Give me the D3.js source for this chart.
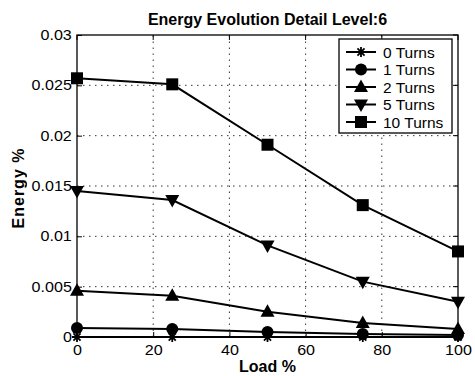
<!DOCTYPE html>
<html>
<head>
<meta charset="utf-8">
<script src="https://cdn.jsdelivr.net/npm/d3@7"></script>
<style>
  body { margin: 0; background: #fff; }
  text { font-family: "Liberation Sans", Arial, sans-serif; }
</style>
</head>
<body>
<svg width="475" height="376"></svg>
<script>
const loads = [0, 25, 50, 75, 100];
const turns0 = [0, 0, 0, 0, 0];
const turns1 = [0.0009, 0.0008, 0.0005, 0.0003, 0.0002];
const turns2 = [0.0046, 0.0041, 0.0025, 0.0014, 0.0008];
const turns5 = [0.0145, 0.0136, 0.0091, 0.0055, 0.0035];
const turns10 = [0.0257, 0.0251, 0.0191, 0.0131, 0.0085];
const seriesNames = ["0 Turns", "1 Turns", "2 Turns", "5 Turns", "10 Turns"];
const symbols = ["star", "circle", "up", "down", "square"];
const xTicks = [0, 20, 40, 60, 80, 100];
const yTicks = [0, 0.005, 0.01, 0.015, 0.02, 0.025, 0.03];

const series = [turns0, turns1, turns2, turns5, turns10].map((vals, i) => ({
  name: seriesNames[i],
  sym: symbols[i],
  points: vals.map((v, j) => ({ x: loads[j], y: v })),
}));

const svg = d3.select("svg");
const margin = { left: 77, right: 17, top: 35, bottom: 39 };
const W = 475, H = 376;

const x = d3.scaleLinear().domain([0, 100]).range([margin.left, W - margin.right]);
const y = d3.scaleLinear().domain([0, 0.03]).range([H - margin.bottom, margin.top]);

const g = svg.append("g");

// dotted grid
g.append("g")
  .selectAll("line")
  .data(xTicks.slice(1, -1))
  .enter()
  .append("line")
  .attr("x1", (d) => x(d)).attr("x2", (d) => x(d))
  .attr("y1", y(0)).attr("y2", y(0.03))
  .attr("stroke", "#000").attr("stroke-width", 0.8)
  .attr("stroke-dasharray", "1.5,4.5");
g.append("g")
  .selectAll("line")
  .data(yTicks.slice(1, -1))
  .enter()
  .append("line")
  .attr("y1", (d) => y(d)).attr("y2", (d) => y(d))
  .attr("x1", x(0)).attr("x2", x(100))
  .attr("stroke", "#000").attr("stroke-width", 0.8)
  .attr("stroke-dasharray", "1.5,4.5");

// axes
const xAxis = d3.axisBottom(x).tickValues(xTicks).tickSizeInner(-5).tickSizeOuter(0).tickPadding(7);
const yAxis = d3.axisLeft(y).tickValues(yTicks).tickSizeInner(-5).tickSizeOuter(0).tickPadding(5)
  .tickFormat((d) => d === 0 ? "0" : String(+d.toFixed(3)));

const xa = g.append("g").attr("transform", `translate(0,${y(0)})`).call(xAxis);
const ya = g.append("g").attr("transform", `translate(${x(0)},0)`).call(yAxis);
[xa, ya].forEach((a) => {
  a.selectAll("text").attr("font-size", 14).attr("fill", "#000")
    .style("font-family", "'Liberation Sans', Arial, sans-serif");
  a.select(".domain").remove();
});
xa.selectAll("text").attr("dy", "0.8em").attr("transform", "scale(1.15,1)");
ya.selectAll("text").attr("transform", "scale(1.15,1)").attr("x", -4.5);

// right/top ticks
g.append("g").selectAll("line").data(yTicks).enter().append("line")
  .attr("x1", x(100)).attr("x2", x(100) - 5)
  .attr("y1", (d) => y(d)).attr("y2", (d) => y(d)).attr("stroke", "#000");
g.append("g").selectAll("line").data(xTicks).enter().append("line")
  .attr("y1", y(0.03)).attr("y2", y(0.03) + 5)
  .attr("x1", (d) => x(d)).attr("x2", (d) => x(d)).attr("stroke", "#000");

// box
g.append("rect")
  .attr("x", x(0)).attr("y", y(0.03))
  .attr("width", x(100) - x(0)).attr("height", y(0) - y(0.03))
  .attr("fill", "none").attr("stroke", "#000").attr("stroke-width", 1.3);

const line = d3.line().x((d) => x(d.x)).y((d) => y(d.y));

function drawSymbol(sel, sym, cx, cy) {
  if (sym === "circle") {
    sel.append("circle").attr("cx", cx).attr("cy", cy).attr("r", 6).attr("fill", "#000");
  } else if (sym === "square") {
    sel.append("rect").attr("x", cx - 6).attr("y", cy - 6).attr("width", 12).attr("height", 12).attr("fill", "#000");
  } else if (sym === "up") {
    sel.append("path").attr("d", `M${cx},${cy - 7.5}L${cx + 7},${cy + 5}L${cx - 7},${cy + 5}Z`).attr("fill", "#000");
  } else if (sym === "down") {
    sel.append("path").attr("d", `M${cx},${cy + 7.5}L${cx + 7},${cy - 5}L${cx - 7},${cy - 5}Z`).attr("fill", "#000");
  } else if (sym === "star") {
    const r = 5;
    const p = [];
    [0, 45, 90, 135].forEach((a) => {
      const rad = (a * Math.PI) / 180;
      p.push(`M${cx - r * Math.cos(rad)},${cy - r * Math.sin(rad)}L${cx + r * Math.cos(rad)},${cy + r * Math.sin(rad)}`);
    });
    sel.append("path").attr("d", p.join("")).attr("stroke", "#000").attr("stroke-width", 1.8);
  }
}

series.forEach((s) => {
  g.append("path").datum(s.points).attr("d", line)
    .attr("fill", "none").attr("stroke", "#000").attr("stroke-width", 2);
});
series.forEach((s) => {
  const mg = g.append("g");
  s.points.forEach((p) => drawSymbol(mg, s.sym, x(p.x), y(p.y)));
});

// legend
const lg = svg.append("g").attr("transform", "translate(339,39)");
lg.append("rect").attr("width", 113).attr("height", 94)
  .attr("fill", "#fff").attr("stroke", "#000").attr("stroke-width", 1.3);
series.forEach((s, i) => {
  const yy = 13 + i * 17.5;
  lg.append("line").attr("x1", 7).attr("x2", 37).attr("y1", yy).attr("y2", yy)
    .attr("stroke", "#000").attr("stroke-width", 2);
  drawSymbol(lg, s.sym, 22, yy);
  lg.append("text").attr("x", 44).attr("y", yy).attr("dy", "0.36em")
    .attr("font-size", 15.5).text(s.name);
});

// title & labels
svg.append("text").attr("x", (x(0) + x(100)) / 2).attr("y", 25)
  .attr("text-anchor", "middle").attr("font-size", 16).attr("font-weight", "bold")
  .text("Energy Evolution Detail Level:6");
svg.append("text").attr("x", (x(0) + x(100)) / 2).attr("y", 372)
  .attr("text-anchor", "middle").attr("font-size", 16).attr("font-weight", "bold")
  .text("Load %");
svg.append("g").attr("opacity", 0.99)
  .append("text")
  .attr("transform", `translate(24,${(y(0) + y(0.03)) / 2 + 2}) rotate(-90)`)
  .attr("text-anchor", "middle").attr("font-size", 16).attr("font-weight", "bold")
  .attr("fill", "#000").attr("letter-spacing", 1)
  .text("Energy %");
</script>
</body>
</html>
